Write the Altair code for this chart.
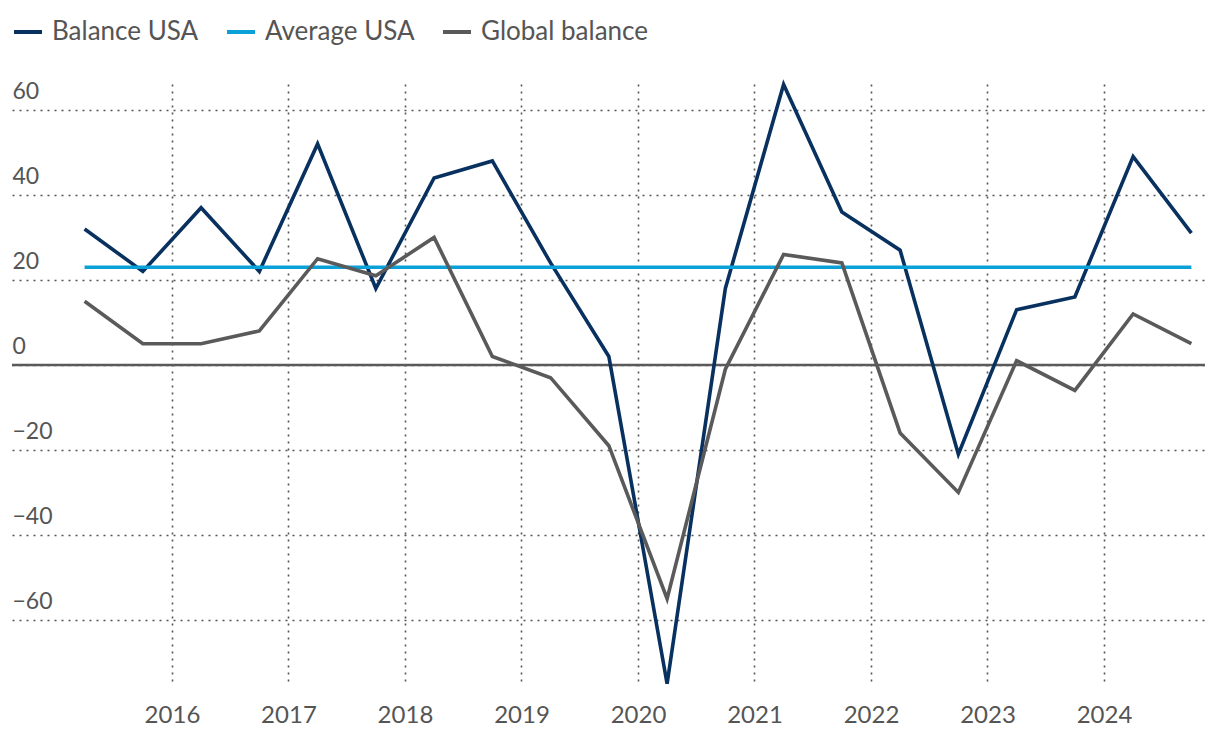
import altair as alt
import pandas as pd

periods = [2015.25, 2015.75, 2016.25, 2016.75, 2017.25, 2017.75, 2018.25, 2018.75,
           2019.25, 2019.75, 2020.25, 2020.75, 2021.25, 2021.75, 2022.25, 2022.75,
           2023.25, 2023.75, 2024.25, 2024.75]
balance_usa = [32, 22, 37, 22, 52, 18, 44, 48, 24, 2, -75, 18, 66, 36, 27, -21, 13, 16, 49, 31]
average_usa = [23] * 20
global_balance = [15, 5, 5, 8, 25, 21, 30, 2, -3, -19, -55, -1, 26, 24, -16, -30, 1, -6, 12, 5]
series_names = ["Balance USA", "Average USA", "Global balance"]
series_colors = ["#08315f", "#0aa0d8", "#5a5a5a"]
year_ticks = [2016, 2017, 2018, 2019, 2020, 2021, 2022, 2023, 2024]
y_ticks = [-60, -40, -20, 0, 20, 40, 60]

rows = []
for name, vals in zip(series_names, [balance_usa, average_usa, global_balance]):
    for p, v in zip(periods, vals):
        rows.append({"t": p, "value": v, "series": name})
df = pd.DataFrame(rows)

FONT = "Lato"
x_scale = alt.Scale(domain=[2014.627, 2024.867], nice=False, zero=False)
y_scale = alt.Scale(domain=[-75.3, 66.1], nice=False, zero=False)

lines = alt.Chart(df).mark_line(strokeWidth=3.6, strokeJoin="miter").encode(
    x=alt.X("t:Q", scale=x_scale,
            axis=alt.Axis(values=year_ticks, format="d", title=None, domain=False,
                          ticks=False, grid=True, gridDash=[2, 5], gridColor="#555555",
                          gridWidth=1.6, labelPadding=18, labelFontSize=24,
                          labelColor="#555555", labelFont=FONT)),
    y=alt.Y("value:Q", scale=y_scale,
            axis=alt.Axis(values=y_ticks, title=None, domain=False, ticks=False,
                          grid=True, gridDash=[2, 5], gridColor="#555555", gridWidth=1.6,
                          labelAlign="left", labelPadding=0, labelBaseline="bottom",
                          labelOffset=-6, labelFontSize=23, labelColor="#555555",
                          labelFont=FONT, labelFlush=False)),
    color=alt.Color("series:N", sort=series_names,
                    scale=alt.Scale(domain=series_names, range=series_colors),
                    legend=alt.Legend(title=None, orient="top", direction="horizontal",
                                      symbolType="stroke", symbolSize=784,
                                      symbolStrokeWidth=4, labelFontSize=26,
                                      labelFont=FONT, labelColor="#555555",
                                      labelLimit=0,
                                      columnPadding=20, labelOffset=8, offset=32,
                                      padding=0)),
)

zero = alt.Chart(pd.DataFrame({"y": [0]})).mark_rule(color="#5a5a5a", strokeWidth=2.5).encode(
    y=alt.Y("y:Q", scale=y_scale)
)

chart = alt.layer(zero, lines).properties(
    width=1193, height=601,
    padding={"left": 2, "top": 8, "right": 5, "bottom": 5},
).configure_view(stroke=None)

chart.save("out.html", embed_options={"renderer": "svg", "actions": False})
